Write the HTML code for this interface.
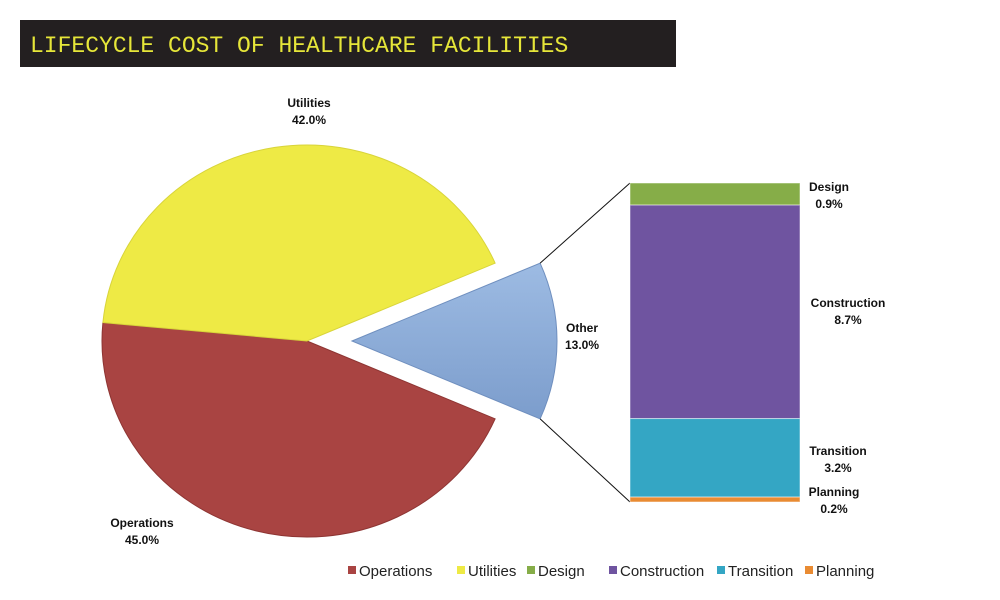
<!DOCTYPE html>
<html><head><meta charset="utf-8"><style>
body{margin:0;background:#fff;}
svg{display:block;font-family:"Liberation Sans",Arial,sans-serif;}
</style></head><body>
<svg id="chart" width="1000" height="600" viewBox="0 0 1000 600" xmlns="http://www.w3.org/2000/svg">
<defs>
<linearGradient id="gBlue" x1="0" y1="0" x2="0" y2="1"><stop offset="0" stop-color="#9dbbe3"/><stop offset="1" stop-color="#7c9dcc"/></linearGradient>
</defs>
<rect x="20" y="20" width="656" height="47" fill="#231f20"/>
<text x="30" y="52" font-family="Liberation Mono, monospace" font-size="23" fill="#e6e639">LIFECYCLE COST OF HEALTHCARE FACILITIES</text>
<g id="pie"></g>
<g id="bar"></g>
<g id="legend"></g>
</svg>
<script>
const pieCats=["Operations","Utilities","Other"];
const pieVals=[45.0,42.0,13.0];
const barCats=["Design","Construction","Transition","Planning"];
const barVals=[0.9,8.7,3.2,0.2];
const legendCats=["Operations","Utilities","Design","Construction","Transition","Planning"];
const NS="http://www.w3.org/2000/svg";
const colors={Operations:"#a94442",Utilities:"#eeea45",Other:"url(#gBlue)",Design:"#86ad48",Construction:"#6f54a0",Transition:"#34a6c4",Planning:"#e98b32"};
const legendColors={Operations:"#a94442",Utilities:"#eeea45",Design:"#86ad48",Construction:"#6f54a0",Transition:"#34a6c4",Planning:"#e98b32"};
function mk(tag,attrs,parent){const e=document.createElementNS(NS,tag);for(const k in attrs)e.setAttribute(k,attrs[k]);parent.appendChild(e);return e;}
const pie=document.getElementById('pie'),bar=document.getElementById('bar'),leg=document.getElementById('legend');
const cx=307,cy=341,rx=205,ry=196,explode=45;
const total=pieVals.reduce((a,b)=>a+b,0);
// Other slice centered on 0 deg (right); operations follows clockwise
const otherIdx=2;
let start=-(pieVals[otherIdx]/total*360)/2;
const order=[2,0,1];
let angles={};
let a=start;
order.forEach(i=>{const sweep=pieVals[i]/total*360;angles[i]=[a,a+sweep];a+=sweep;});
function pt(x0,y0,deg){const r=deg*Math.PI/180;return [x0+rx*Math.cos(r),y0+ry*Math.sin(r)];}
const labelPos={0:[142,527],1:[309,107],2:[582,332]};
[0,1,2].forEach(i=>{
  const [a0,a1]=angles[i];
  const mid=(a0+a1)/2*Math.PI/180;
  const ox=i===otherIdx?explode*Math.cos(mid):0, oy=i===otherIdx?explode*Math.sin(mid):0;
  const x0=cx+ox,y0=cy+oy;
  const p0=pt(x0,y0,a0),p1=pt(x0,y0,a1);
  const large=(a1-a0)>180?1:0;
  const p=mk('path',{d:`M${x0},${y0} L${p0[0]},${p0[1]} A${rx},${ry} 0 ${large} 1 ${p1[0]},${p1[1]} Z`,fill:colors[pieCats[i]],stroke:i===2?"#6f8fbf":(i===0?"#8e3533":"#d8d43a"),"stroke-width":1},pie);
  
  
  const t=mk('text',{x:labelPos[i][0],y:labelPos[i][1],"text-anchor":"middle","font-size":12,"font-weight":"bold",fill:"#111"},pie);
  
  
  const s1=mk('tspan',{x:labelPos[i][0],dy:0},t);s1.textContent=pieCats[i];
  const s2=mk('tspan',{x:labelPos[i][0],dy:17},t);s2.textContent=pieVals[i].toFixed(1)+"%";
  if(i===otherIdx){
    const ot=pt(x0,y0,a0),ob=pt(x0,y0,a1);
    window._conn=[ot,ob];
  }
});
// stacked bar
const bx=630,bw=170,bTop=183,bBot=502;
const bTotal=barVals.reduce((a,b)=>a+b,0);
const yScale=v=>v/bTotal*(bBot-bTop);
const c1=mk('line',{x1:window._conn[0][0],y1:window._conn[0][1],x2:bx,y2:bTop,stroke:"#111","stroke-width":1},bar);

const c2=mk('line',{x1:window._conn[1][0],y1:window._conn[1][1],x2:bx,y2:bBot,stroke:"#111","stroke-width":1},bar);

const barLabels={Design:[829,191],Construction:[848,307],Transition:[838,455],Planning:[834,496]};
let y=bTop;
barCats.forEach((c,i)=>{
  const h=yScale(barVals[i]);
  const r=mk('rect',{x:bx,y:y,width:bw,height:h,fill:colors[c],stroke:"rgba(255,255,255,0.5)","stroke-width":1},bar);
  
  
  y+=h;
  const lp=barLabels[c];
  const t=mk('text',{x:lp[0],y:lp[1],"text-anchor":"middle","font-size":12,"font-weight":"bold",fill:"#111"},bar);
  
  
  const s1=mk('tspan',{x:lp[0],dy:0},t);s1.textContent=c;
  const s2=mk('tspan',{x:lp[0],dy:17},t);s2.textContent=barVals[i].toFixed(1)+"%";
});
// legend
const legX=[348,457,527,609,717,805];
legendCats.forEach((c,i)=>{
  const g=mk('g',{},leg);
  
  
  mk('rect',{x:legX[i],y:566,width:8,height:8,fill:legendColors[c]},g);
  const t=mk('text',{x:legX[i]+11,y:576,"font-size":15,fill:"#222"},g);
  t.textContent=c;
});
</script>
</body></html>
